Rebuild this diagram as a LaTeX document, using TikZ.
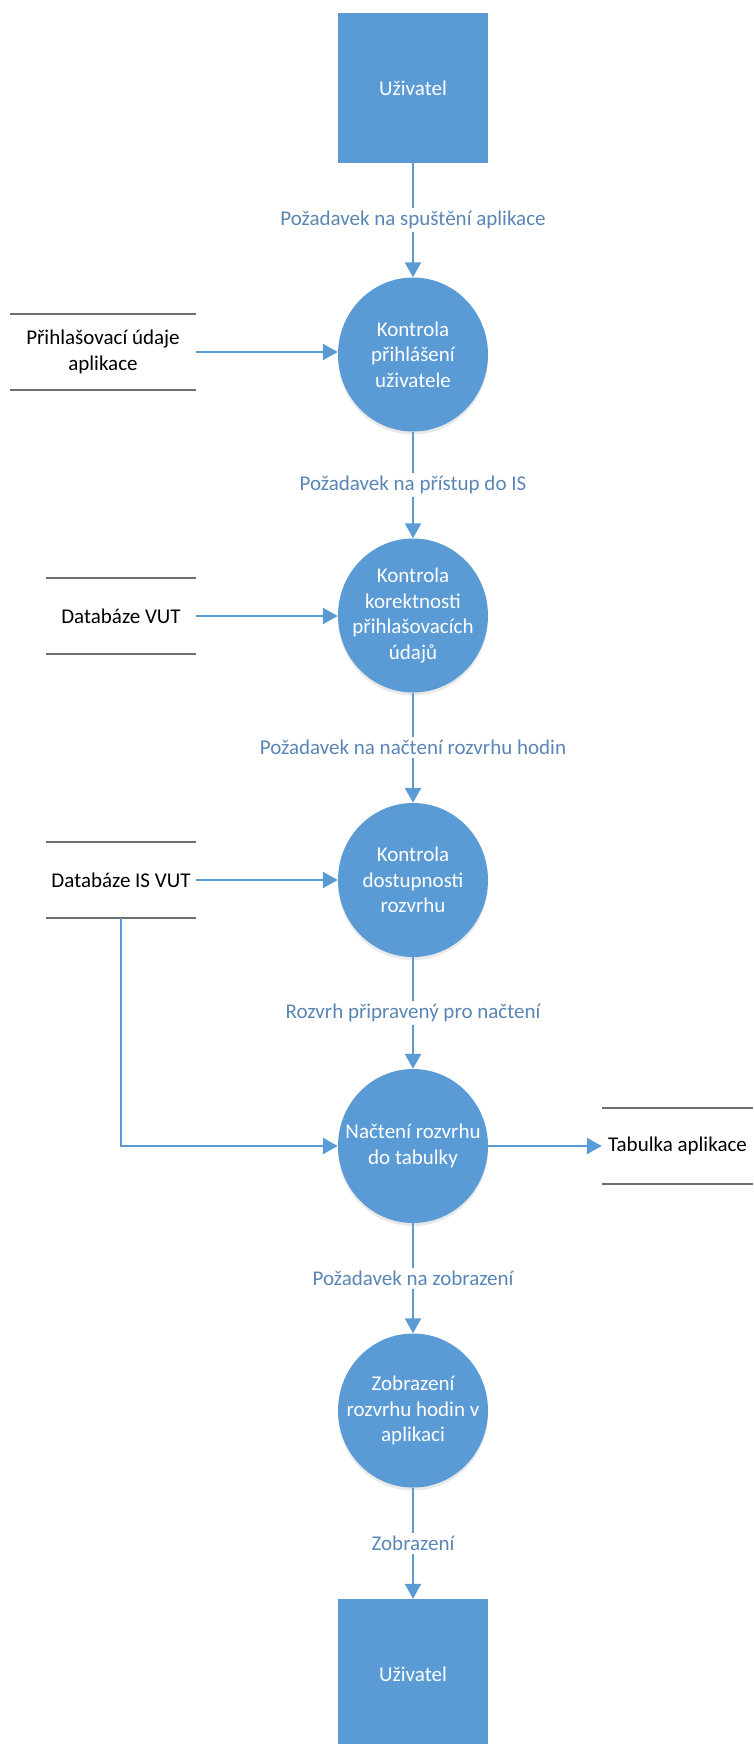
\documentclass[tikz,border=0pt]{standalone}
\usepackage{fontspec}
\setmainfont{Carlito}
\usetikzlibrary{shapes.geometric,arrows.meta,shadows}
\definecolor{dfdblue}{HTML}{5B9BD5}
\definecolor{labelblue}{HTML}{5A86B5}
\definecolor{storegray}{HTML}{6E6E6E}
\begin{document}
\begin{tikzpicture}[x=1pt,y=-1pt,
  font=\fontsize{21}{25.5}\selectfont,
  entity/.style={rectangle, fill=dfdblue, text=white, minimum width=150pt, minimum height=150pt, inner sep=0pt},
  process/.style={ellipse, fill=dfdblue, minimum width=150pt, minimum height=154pt, inner sep=0pt,
    drop shadow={shadow xshift=0pt, shadow yshift=-3pt, opacity=0.18, fill=gray}},
  ptext/.style={text=white, align=center, inner sep=0pt},
  store/.style={rectangle, minimum height=75pt, inner sep=0pt, align=center, text=black},
  storeline/.style={draw=storegray, line width=1.8pt},
  flow/.style={draw=dfdblue, line width=2.4pt, -{Triangle[length=15pt,width=16pt]}},
  flowlabel/.style={fill=white, text=labelblue, inner sep=3pt}
]
\useasboundingbox (0,0) rectangle (753,1744);

% entities
\node[entity] (u1) at (413,88) {Uživatel};
\node[entity] (u2) at (413,1674) {Uživatel};

% processes
\node[process] (c1) at (413,354.5) {};
\node[process] (c2) at (413,615.5) {};
\node[process] (c3) at (413,880) {};
\node[process] (c4) at (413,1146) {};
\node[process] (c5) at (413,1410.5) {};
\node[ptext] (t1) at (c1) {Kontrola\\přihlášení\\uživatele};
\node[ptext] (t2) at (c2) {Kontrola\\korektnosti\\přihlašovacích\\údajů};
\node[ptext] (t3) at (c3) {Kontrola\\dostupnosti\\rozvrhu};
\node[ptext] (t4) at (c4) {Načtení rozvrhu\\do tabulky};
\node[ptext] (t5) at (c5) {Zobrazení\\rozvrhu hodin v\\aplikaci};

% data stores
\node[store, minimum width=186pt] (s1) at (103,352) {Přihlašovací údaje\\aplikace};
\node[store, minimum width=150pt] (s2) at (121,616) {Databáze VUT};
\node[store, minimum width=150pt] (s3) at (121,880) {Databáze IS VUT};
\node[store, minimum width=151pt] (s4) at (677.5,1146) {Tabulka aplikace};
\foreach \s in {s1,s2,s3,s4}{
  \draw[storeline] (\s.north west) -- (\s.north east);
  \draw[storeline] (\s.south west) -- (\s.south east);
}

% main flows
\draw[flow] (u1.south) -- node[flowlabel] {Požadavek na spuštění aplikace} (c1.north);
\draw[flow] (c1.south) -- node[flowlabel] {Požadavek na přístup do IS} (c2.north);
\draw[flow] (c2.south) -- node[flowlabel] {Požadavek na načtení rozvrhu hodin} (c3.north);
\draw[flow] (c3.south) -- node[flowlabel] {Rozvrh připravený pro načtení} (c4.north);
\draw[flow] (c4.south) -- node[flowlabel] {Požadavek na zobrazení} (c5.north);
\draw[flow] (c5.south) -- node[flowlabel] {Zobrazení} (u2.north);

% store flows
\draw[flow] (s1.east) -- (s1.east -| c1.west);
\draw[flow] (s2.east) -- (s2.east -| c2.west);
\draw[flow] (s3.east) -- (s3.east -| c3.west);
\draw[flow] (s3.south) |- (c4.west);
\draw[flow] (c4.east) -- (s4.west);
\end{tikzpicture}
\end{document}
